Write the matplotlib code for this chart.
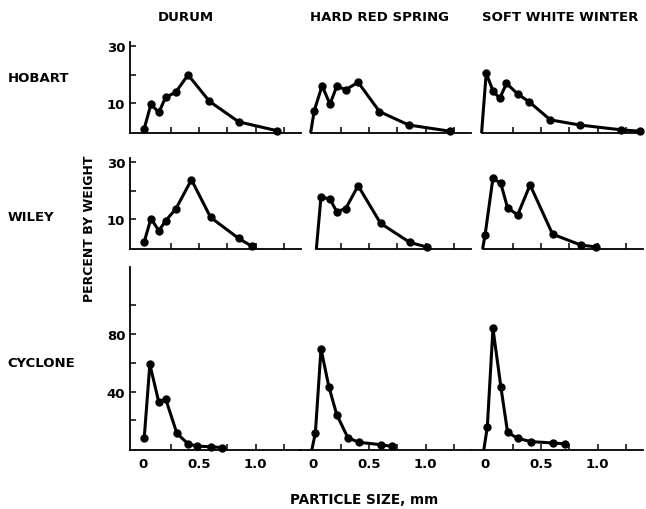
import matplotlib.pyplot as plt

# column / row names
wheats = ['DURUM', 'HARD RED SPRING', 'SOFT WHITE WINTER']
mills = ['HOBART', 'WILEY', 'CYCLONE']

# particle size (mm) and percent by weight
hob_durum_x = [0.01, 0.07, 0.14, 0.20, 0.29, 0.40, 0.59, 0.85, 1.19]
hob_durum_y = [1.0, 9.6, 6.7, 12.0, 13.8, 19.9, 10.6, 3.4, 0.3]
hob_hrs_x = [-0.02, 0.01, 0.08, 0.15, 0.21, 0.29, 0.40, 0.59, 0.85, 1.22]
hob_hrs_y = [0, 7.3, 16.1, 9.6, 15.9, 14.7, 17.3, 7.0, 2.3, 0.1]
hob_sww_x = [-0.03, 0.01, 0.07, 0.13, 0.19, 0.29, 0.39, 0.58, 0.84, 1.21, 1.38]
hob_sww_y = [0, 20.5, 14.3, 11.6, 16.9, 13.2, 10.5, 4.1, 2.3, 0.6, 0.1]

wil_durum_x = [0.01, 0.07, 0.14, 0.20, 0.29, 0.43, 0.60, 0.85, 0.97]
wil_durum_y = [2.0, 10.2, 5.9, 9.4, 13.5, 23.8, 10.6, 3.2, 0.4]
wil_hrs_x = [0.03, 0.07, 0.15, 0.21, 0.29, 0.40, 0.60, 0.86, 1.01]
wil_hrs_y = [0, 17.8, 17.0, 12.6, 13.7, 21.7, 8.5, 1.8, 0.2]
wil_sww_x = [-0.02, 0.0, 0.07, 0.14, 0.20, 0.29, 0.40, 0.60, 0.85, 0.99]
wil_sww_y = [0, 4.4, 24.4, 22.5, 13.9, 11.5, 22.0, 4.7, 0.9, 0.2]

cyc_durum_x = [0.01, 0.06, 0.14, 0.20, 0.30, 0.40, 0.48, 0.60, 0.70]
cyc_durum_y = [7.5, 59, 32.5, 35, 11, 3.5, 2.0, 1.5, 1.0]
cyc_hrs_x = [-0.01, 0.02, 0.07, 0.14, 0.21, 0.31, 0.41, 0.60, 0.70]
cyc_hrs_y = [0, 11, 69.7, 43.4, 23.9, 7.7, 4.6, 3.0, 1.8]
cyc_sww_x = [-0.01, 0.02, 0.07, 0.14, 0.20, 0.29, 0.41, 0.60, 0.71]
cyc_sww_y = [0, 15.5, 84, 43.4, 11.6, 7.4, 5.1, 4.2, 3.5]

series = [
    [(hob_durum_x, hob_durum_y), (hob_hrs_x, hob_hrs_y), (hob_sww_x, hob_sww_y)],
    [(wil_durum_x, wil_durum_y), (wil_hrs_x, wil_hrs_y), (wil_sww_x, wil_sww_y)],
    [(cyc_durum_x, cyc_durum_y), (cyc_hrs_x, cyc_hrs_y), (cyc_sww_x, cyc_sww_y)],
]

x_ticks = [0.25, 0.5, 0.75, 1.0, 1.25]
x_labels = ['', '0.5', '', '1.0', '']
small_yticks = [10, 20, 30]
small_ylabels = ['10', '', '30']
big_yticks = [20, 40, 60, 80, 100]
big_ylabels = ['', '40', '', '80', '']

plt.rcParams['font.family'] = 'DejaVu Sans'
plt.rcParams['font.weight'] = 'bold'

fig = plt.figure(figsize=(6.46, 5.10), dpi=100)

# axes boxes in figure fractions
col_left = [0.2006, 0.4638, 0.730]
col_w = 0.2647
row_box = [(0.7373, 0.1788), (0.5098, 0.1788), (0.1149, 0.3602)]
ylims = [(-0.5, 31.5), (-0.5, 31.5), (-1, 127)]

for r in range(3):
    for c in range(3):
        ax = fig.add_axes([col_left[c], row_box[r][0], col_w, row_box[r][1]])
        x, y = series[r][c]
        # first point on baseline has no dot
        if y[0] == 0:
            marks = list(range(1, len(x)))
        else:
            marks = list(range(len(x)))
        ax.plot(x, y, color='black', linewidth=2.2, marker='o', markersize=5,
                markevery=marks, solid_joinstyle='round', clip_on=False)
        ax.set_xlim(-0.12, 1.40)
        ax.set_ylim(*ylims[r])
        ax.spines['top'].set_visible(False)
        ax.spines['right'].set_visible(False)
        ax.spines['bottom'].set_linewidth(1.3)
        ax.spines['left'].set_linewidth(1.3)
        ax.set_xticks(x_ticks)
        if r == 2:
            ax.set_xticks([0] + x_ticks)
            ax.set_xticklabels(['0'] + x_labels, fontsize=9.5, fontweight='bold')
        else:
            ax.set_xticklabels([])
        ax.tick_params(axis='x', direction='in', length=4, width=1.1, pad=5)
        if r == 2:
            # no tick mark at zero
            ax.get_xticklines()[0].set_visible(False)
            ax.get_xticklines()[1].set_visible(False)
        if c == 0:
            if r == 2:
                ax.set_yticks(big_yticks)
                ax.set_yticklabels(big_ylabels, fontsize=9.5, fontweight='bold')
            else:
                ax.set_yticks(small_yticks)
                ax.set_yticklabels(small_ylabels, fontsize=9.5, fontweight='bold')
            ax.tick_params(axis='y', direction='in', length=4, width=1.1, pad=3)
        else:
            ax.spines['left'].set_visible(False)
            ax.set_yticks([])
            if r < 2:
                ax.spines['bottom'].set_bounds(x[0], 1.40)
        ax.patch.set_alpha(0)

# column titles
title_x = [0.288, 0.588, 0.867]
for name, tx in zip(wheats, title_x):
    fig.text(tx, 0.966, name, ha='center', va='center', fontsize=9.5, fontweight='bold')

# row labels
row_y = [0.847, 0.5745, 0.288]
for name, ry in zip(mills, row_y):
    fig.text(0.012, ry, name, ha='left', va='center', fontsize=9.5, fontweight='bold')

fig.text(0.139, 0.551, 'PERCENT BY WEIGHT', rotation=90, ha='center', va='center',
         fontsize=9, fontweight='bold')
fig.text(0.563, 0.02, 'PARTICLE SIZE, mm', ha='center', va='center',
         fontsize=9.8, fontweight='bold')

plt.savefig('out.png', dpi=100)
